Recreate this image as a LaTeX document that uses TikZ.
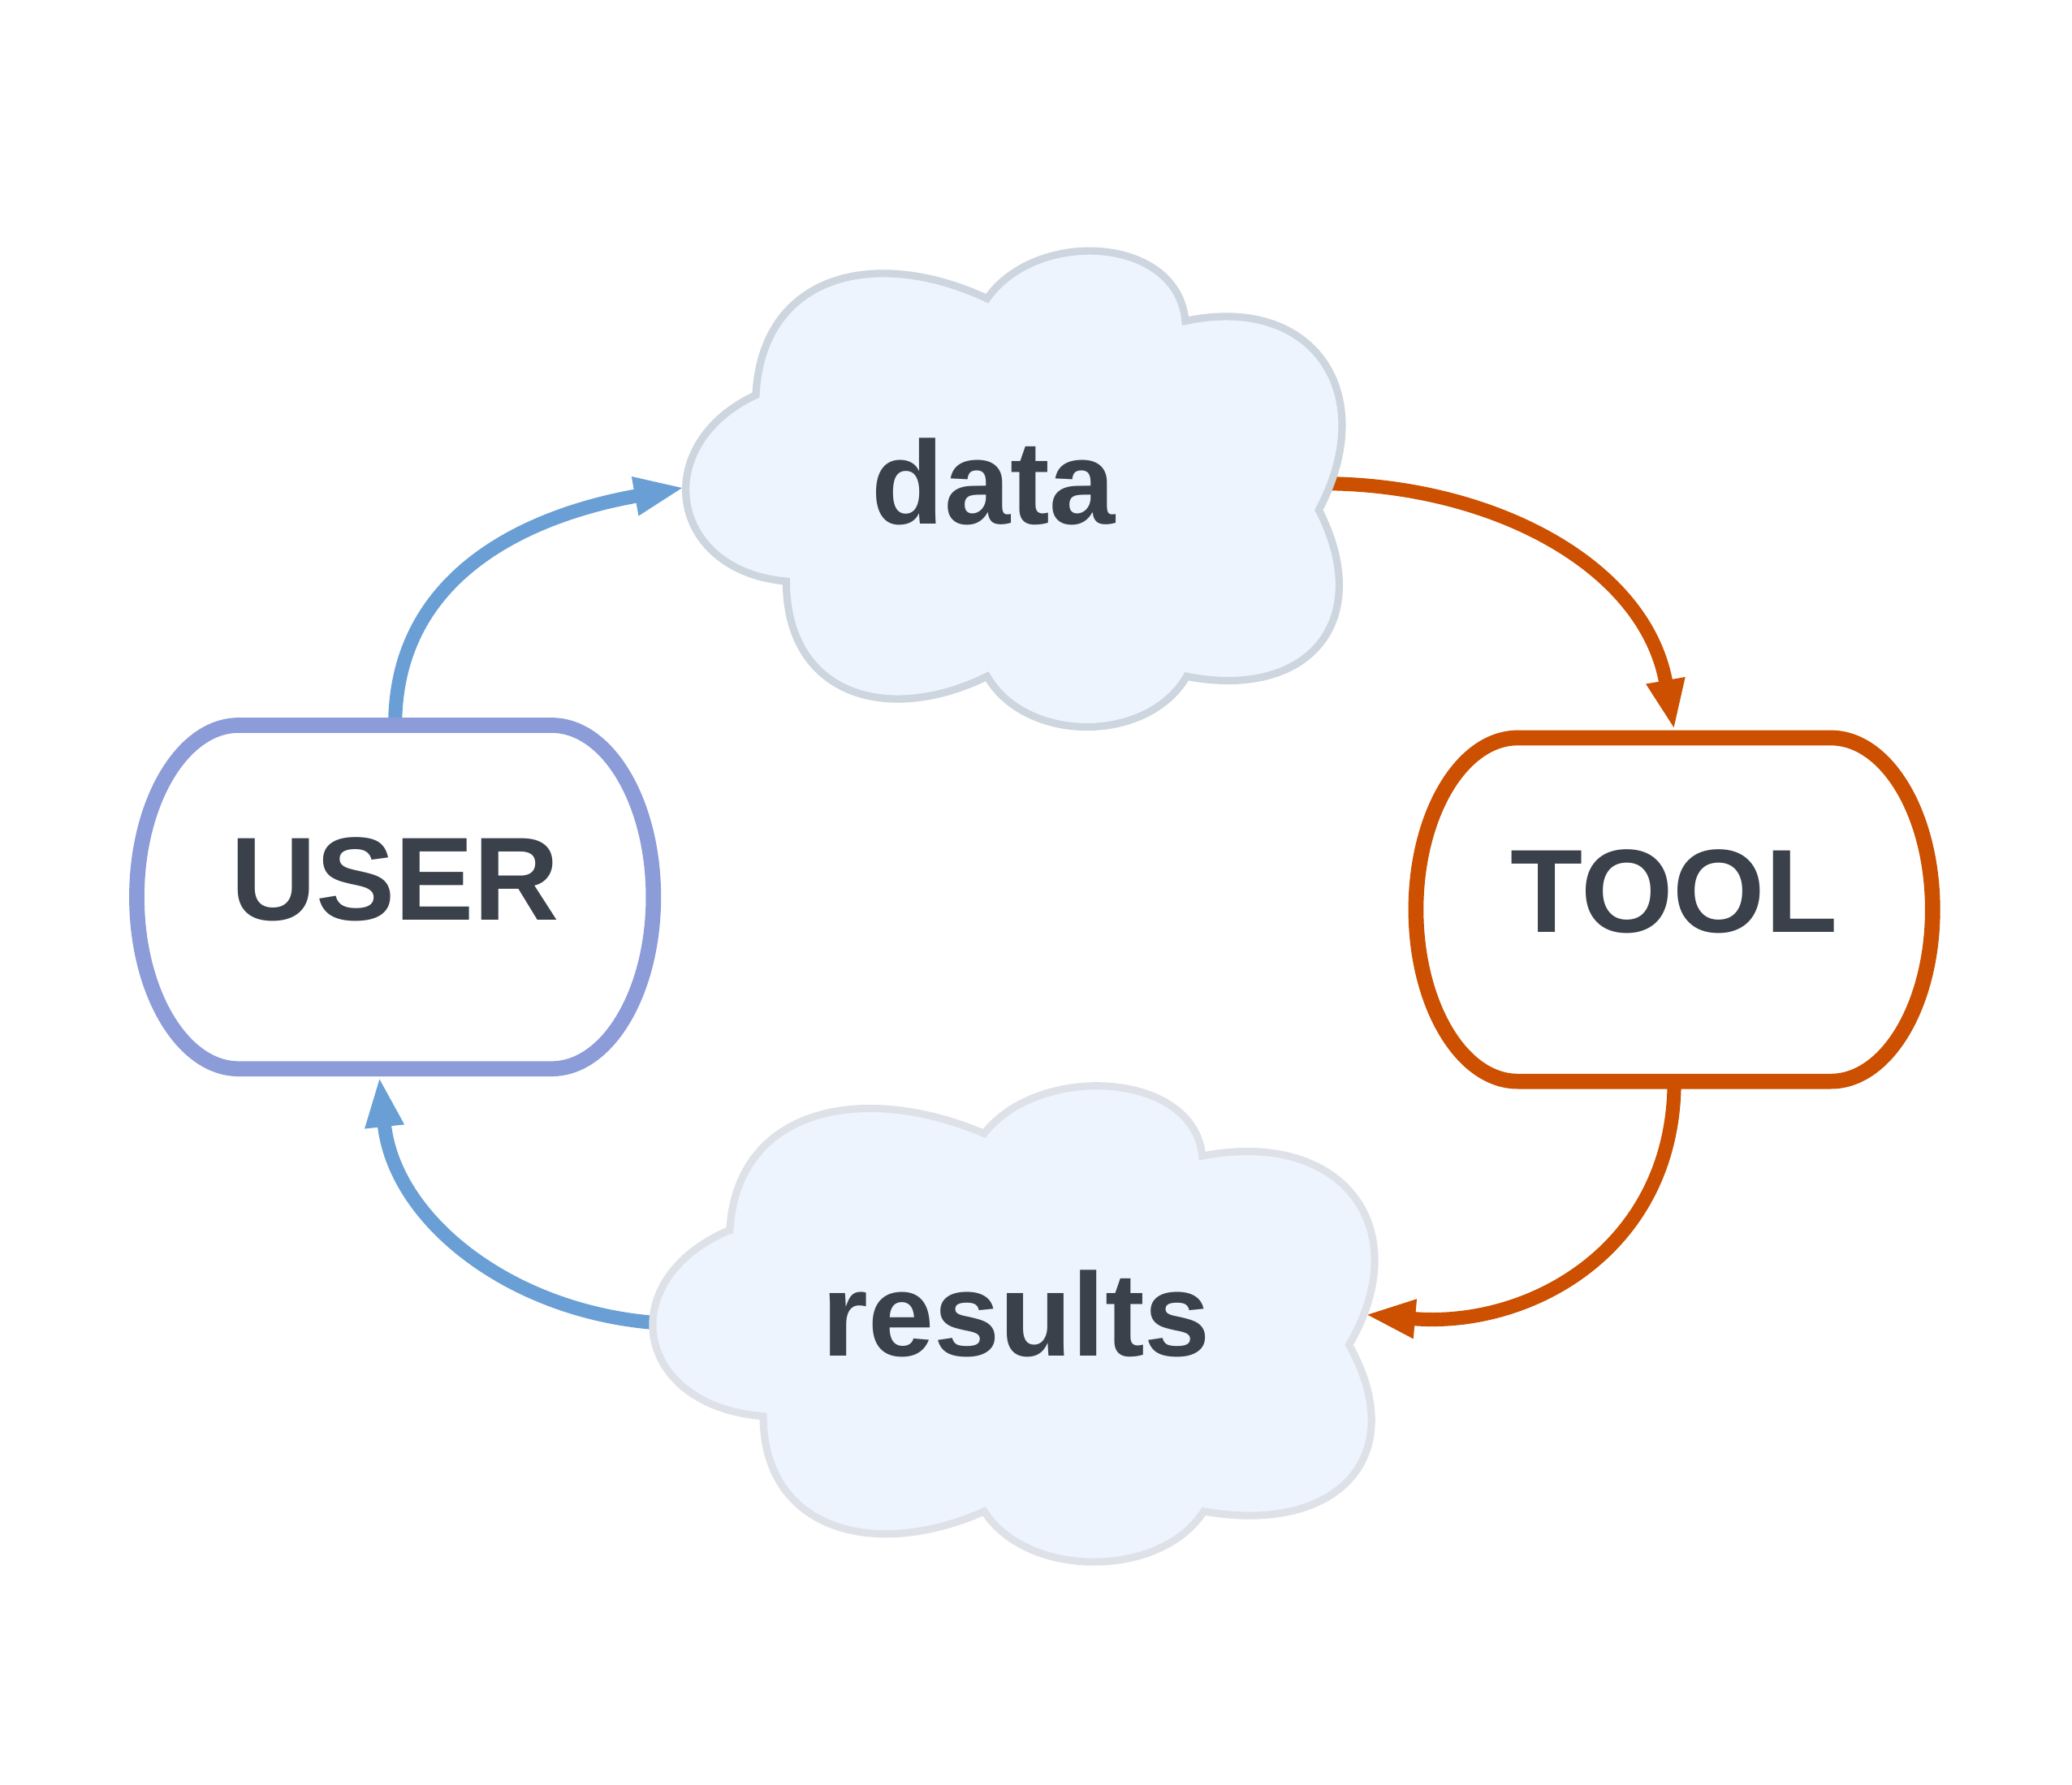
\documentclass[tikz,border=0pt]{standalone}
\usepackage{fontspec}
\setmainfont{Liberation Sans}
\usetikzlibrary{arrows.meta,positioning}
\definecolor{txtGray}{HTML}{3A414B}
\definecolor{cloudFill}{HTML}{EDF4FE}
\definecolor{dataGray}{HTML}{CDD5DE}
\definecolor{resultGray}{HTML}{DEE2E8}
\definecolor{userBlue}{HTML}{8C9CD9}
\definecolor{linkBlue}{HTML}{6A9FD6}
\definecolor{toolOrange}{HTML}{CC5000}
\pgfdeclarelayer{links}
\pgfdeclarelayer{shapes}
\pgfsetlayers{links,shapes,main}
% cloud outline, around (0,0)
\newcommand{\cloudpath}{(-1.97,0.70) to[out=87,in=155,looseness=1.25] (-0.22,1.43)
	to[out=55,in=95,looseness=1.1] (1.28,1.26)
	to[out=12,in=62,looseness=1.45] (2.29,-0.17)
	to[out=-63,in=-11,looseness=1.5] (1.29,-1.43)
	to[out=-120,in=-60] (-0.22,-1.43)
	to[out=-154,in=-90,looseness=1.3] (-1.74,-0.71)
	to[out=175,in=-155,looseness=1.6] cycle}
\tikzset{
myTerm/.style={
	rectangle, inner sep=0pt, outer sep=0pt,
	minimum width=3.91cm, minimum height=2.6cm, text depth=0.28cm,
	font=\bfseries\fontsize{25.5}{30}\selectfont, text=txtGray
}
, myCloud/.style={
	rectangle, inner sep=0pt, outer sep=0pt,
	minimum width=5.02cm, minimum height=3.56cm,
	font=\bfseries\fontsize{25.5}{30}\selectfont, text=txtGray
}
, myUserLine/.style={draw=userBlue, line width=0.115cm, fill=white}
, myToolLine/.style={draw=toolOrange, line width=0.115cm, fill=white}
, myDataCloud/.style={draw=dataGray, line width=1.6pt, fill=cloudFill}
, myResultCloud/.style={draw=resultGray, line width=1.6pt, fill=cloudFill}
% links
, myBlueLink/.style={draw=linkBlue, line width=0.105cm, -{Triangle[length=0.38cm,width=0.27cm]}}
, myOrangeLink/.style={draw=toolOrange, line width=0.105cm, -{Triangle[length=0.38cm,width=0.27cm]}}
}

\begin{document}
\begin{tikzpicture}
	\useasboundingbox (0,0) rectangle (15.68,13.51);
	% nodes
	\node[myTerm] (User) at (2.99,6.72) {USER};
	\node[myTerm] (Tool) at (12.67,6.625) {TOOL};
	\node[myCloud, text depth=0.1cm] (Data) at (7.69,9.82) {\hspace*{-0.34cm}data};
	\node[myCloud, minimum width=5.52cm, text depth=0.14cm] (Results) at (7.69,3.50) {results};

	% outlines
	\begin{pgfonlayer}{shapes}
	\begin{scope}[shift={(Data.center)}]
		\draw[myDataCloud] \cloudpath;
	\end{scope}
	\begin{scope}[shift={(Results.center)}, xscale=1.1]
		\draw[myResultCloud] \cloudpath;
	\end{scope}
	\draw[myUserLine] ([xshift=0.77cm]User.north west) -- ([xshift=-0.77cm]User.north east)
		arc[start angle=90, end angle=-90, x radius=0.77cm, y radius=1.3cm]
		-- ([xshift=0.77cm]User.south west)
		arc[start angle=270, end angle=90, x radius=0.77cm, y radius=1.3cm] -- cycle;
	\draw[myToolLine] ([xshift=0.77cm]Tool.north west) -- ([xshift=-0.77cm]Tool.north east)
		arc[start angle=90, end angle=-90, x radius=0.77cm, y radius=1.3cm]
		-- ([xshift=0.77cm]Tool.south west)
		arc[start angle=270, end angle=90, x radius=0.77cm, y radius=1.3cm] -- cycle;
	\end{pgfonlayer}

	% links
	\begin{pgfonlayer}{links}
	\fill[white] (0,0) rectangle (15.68,13.51);
	\draw[myBlueLink] (User.north) to[out=90, in=190, looseness=1.05] (Data.west);
	\draw[myOrangeLink] ([xshift=-0.2cm, yshift=0.03cm]Data.east) to[out=0, in=100] ([yshift=0.06cm]Tool.north);
	\draw[myOrangeLink] (Tool.south) to[out=-90, in=-5, looseness=1.1] ([xshift=-0.12cm, yshift=0.06cm]Results.east);
	\draw[myBlueLink] (Results.west) to[out=175, in=-84] ([xshift=-0.12cm, yshift=-0.06cm]User.south);
	\end{pgfonlayer}
\end{tikzpicture}
\end{document}
